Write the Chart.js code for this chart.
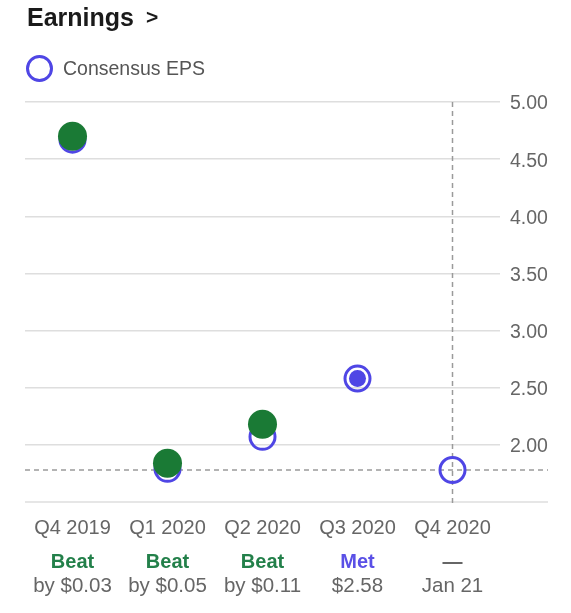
<!DOCTYPE html>
<html>
<head>
<meta charset="utf-8">
<script src="https://cdn.jsdelivr.net/npm/chart.js@4.4.1/dist/chart.umd.min.js"></script>
<style>
    body { margin: 0; background: #fff; font-family: "Liberation Sans", Arial, sans-serif; }
    .wrap { position: relative; width: 571px; height: 613px; overflow: hidden; }
    .wrap canvas { position: absolute; left: 0; top: 0; }
    .title { position: absolute; left: 27px; top: 5px; font-size: 25px; line-height: 25px; font-weight: bold; color: #1a1a1a; z-index: 2; }
    .title .chev { font-size: 21px; margin-left: 12px; position: relative; top: -2px; }
    .legend { position: absolute; left: 26px; top: 55px; height: 27px; display: flex; align-items: center; font-size: 19.5px; color: #555; z-index: 2; }
    .legend .dot { width: 21px; height: 21px; border: 3px solid #4f46e5; border-radius: 50%; margin-right: 10px; }
</style>
</head>
<body>
<div class="wrap">
    <div class="title">Earnings<span class="chev">&gt;</span></div>
    <div class="legend"><span class="dot"></span>Consensus EPS</div>
    <canvas id="epsChart" width="571" height="613"></canvas>
</div>
<script>
const quarters = ['Q4 2019', 'Q1 2020', 'Q2 2020', 'Q3 2020', 'Q4 2020'];
const consensusEps = [4.67, 1.79, 2.07, 2.58, 1.78];
const actualEps = [4.70, 1.84, 2.18, 2.58, null];
const results = ['Beat', 'Beat', 'Beat', 'Met', '—'];
const resultDetails = ['by $0.03', 'by $0.05', 'by $0.11', '$2.58', 'Jan 21'];
const yMin = 1.5;
const yMax = 5.0;
const yStep = 0.5;

const GREEN = '#1a7a35';
const GREEN_TEXT = '#23804a';
const BLUE = '#4f46e5';
const GREY_TEXT = '#666';

const resultColor = r => r === 'Beat' ? GREEN_TEXT : (r === 'Met' ? '#5a50e6' : GREY_TEXT);

// dashed guides for the upcoming quarter + long baseline
const guides = {
    id: 'guides',
    beforeDatasetsDraw(chart) {
        const { ctx, chartArea, scales } = chart;
        const right = chart.width - 23;
        const last = quarters.length - 1;
        const yBase = scales.y.getPixelForValue(yMin);
        const yNext = scales.y.getPixelForValue(consensusEps[last]);
        const xNext = scales.x.getPixelForValue(last);
        ctx.save();
        ctx.strokeStyle = '#dedede';
        ctx.lineWidth = 1.5;
        ctx.beginPath();
        ctx.moveTo(chartArea.left, yBase);
        ctx.lineTo(right, yBase);
        ctx.stroke();
        ctx.strokeStyle = '#9a9a9a';
        ctx.setLineDash([5, 4]);
        ctx.beginPath();
        ctx.moveTo(chartArea.left, yNext);
        ctx.lineTo(right, yNext);
        ctx.moveTo(xNext, chartArea.top);
        ctx.lineTo(xNext, chartArea.bottom + 4);
        ctx.stroke();
        ctx.restore();
    }
};

const bottomAxis = (labels, padding, height, weight, font, color) => ({
    type: 'category',
    labels: labels,
    position: 'bottom',
    offset: true,
    weight: weight,
    grid: { display: false, drawTicks: false },
    border: { display: false },
    ticks: { autoSkip: false, maxRotation: 0, padding: padding, font: font, color: color },
    afterFit(scale) { scale.height = height; }
});

new Chart(document.getElementById('epsChart'), {
    type: 'line',
    data: {
        labels: quarters,
        datasets: [{
            label: 'Actual EPS',
            data: actualEps,
            showLine: false,
            order: 0,
            pointRadius: ctx => results[ctx.dataIndex] === 'Met' ? 8.5 : 14.5,
            pointBackgroundColor: ctx => results[ctx.dataIndex] === 'Met' ? BLUE : GREEN,
            pointBorderWidth: 0
        }, {
            label: 'Consensus EPS',
            data: consensusEps,
            showLine: false,
            order: 1,
            pointRadius: 12.5,
            pointBorderWidth: 3,
            pointBorderColor: BLUE,
            pointBackgroundColor: 'rgba(255,255,255,0)'
        }]
    },
    options: {
        responsive: false,
        animation: false,
        events: [],
        layout: { padding: { top: 102, left: 25, right: 0, bottom: 17 } },
        plugins: { legend: { display: false }, tooltip: { enabled: false } },
        scales: {
            x: bottomAxis(quarters, 14, 36, 0, { size: 20 }, GREY_TEXT),
            x2: bottomAxis(results, 12.5, 34, 1, { size: 20, weight: 'bold' },
                ctx => resultColor(results[ctx.index])),
            x3: bottomAxis(resultDetails, 2.5, 24, 2, { size: 20.5 }, GREY_TEXT),
            y: {
                type: 'linear',
                position: 'right',
                min: yMin,
                max: yMax,
                grid: {
                    drawTicks: false,
                    lineWidth: 1.5,
                    color: ctx => ctx.tick && ctx.tick.value === yMin ? 'rgba(0,0,0,0)' : '#dedede'
                },
                border: { display: false },
                ticks: {
                    stepSize: yStep,
                    padding: 10,
                    labelOffset: 2,
                    font: { size: 19.5 },
                    color: GREY_TEXT,
                    callback: v => v === yMin ? '' : v.toFixed(2)
                },
                afterFit(scale) { scale.width = 71; }
            }
        }
    },
    plugins: [guides]
});
</script>
</body>
</html>
